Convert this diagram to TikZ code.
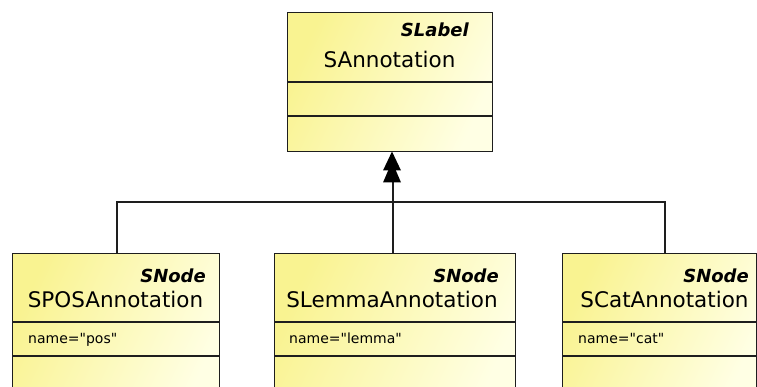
\documentclass[tikz,border=0pt]{standalone}
\usepackage{fontspec}
\setmainfont{DejaVu Sans}
\newfontfamily\attrfont{DejaVu Sans}[Ligatures=TeXOff]
\usetikzlibrary{calc}
\definecolor{ylw}{RGB}{249,243,145}
\definecolor{wht}{RGB}{255,255,228}
\definecolor{edge}{RGB}{30,30,30}
\tikzset{
  classbox/.style={draw=edge, line width=1.4pt, anchor=north west, inner sep=0pt,
    left color=ylw, right color=wht, shading angle=65},
  divider/.style={draw=edge, line width=1.4pt},
  stereo/.style={font=\fontsize{18}{20}\selectfont\bfseries\itshape, anchor=base east, inner sep=0pt},
  cname/.style={font=\fontsize{21.5}{23}\selectfont, anchor=base, inner sep=0pt},
  attr/.style={font=\attrfont\fontsize{14}{16}\selectfont, anchor=base west, inner sep=0pt},
  conn/.style={draw=edge, line width=1.1pt},
  headtri/.style={fill=black}
}
\begin{document}
\begin{tikzpicture}[x=1pt,y=-1pt]
\useasboundingbox (0,0) rectangle (757,387);
\begin{scope}
\clip (0,0) rectangle (757,387);
% top class
\node[classbox, minimum width=205pt, minimum height=139pt] (top) at (287,12) {};
\draw[divider] (287,82) -- (492,82);
\draw[divider] (287,116) -- (492,116);
\node[stereo] (tstereo) at (469,37) {SLabel};
\node[cname] (tname) at (389.5,68) {SAnnotation};
% child 1
\node[classbox, minimum width=207pt, minimum height=150pt] (c1) at (12,253) {};
\draw[divider] (12,322) -- (219,322);
\draw[divider] (12,356) -- (219,356);
\node[stereo] (s1) at (206,282) {SNode};
\node[cname] (n1) at (115.5,307) {SPOSAnnotation};
\node[attr] (a1) at (28,343) {name="pos"};
% child 2
\node[classbox, minimum width=241pt, minimum height=150pt] (c2) at (274,253) {};
\draw[divider] (274,322) -- (515,322);
\draw[divider] (274,356) -- (515,356);
\node[stereo] (s2) at (499,282) {SNode};
\node[cname] (n2) at (392,307) {SLemmaAnnotation};
\node[attr] (a2) at (289,343) {name="lemma"};
% child 3
\node[classbox, minimum width=194pt, minimum height=150pt] (c3) at (562,253) {};
\draw[divider] (562,322) -- (756,322);
\draw[divider] (562,356) -- (756,356);
\node[stereo] (s3) at (749,282) {SNode};
\node[cname] (n3) at (664.5,307) {SCatAnnotation};
\node[attr] (a3) at (578,343) {name="cat"};
\end{scope}
% connectors
\coordinate (j1) at (117,202);
\coordinate (j2) at (393,202);
\coordinate (j3) at (665,202);
\coordinate (tip) at (392,151.5);
\draw[conn] (117,253) -- (j1) -- (j3) -- (665,253);
\draw[conn] (393,253) -- (j2) -- (393,180);
% double triangle head
\fill[headtri] (tip) -- ++(-9,19) -- ++(18,0) -- cycle;
\fill[headtri] ($(tip)+(0,10)$) -- ++(-9,21) -- ++(18,0) -- cycle;
\end{tikzpicture}
\end{document}
